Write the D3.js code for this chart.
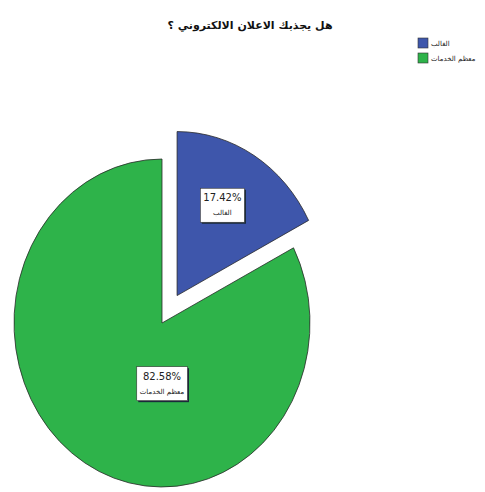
<!DOCTYPE html>
<html>
<head>
<meta charset="utf-8">
<script src="https://cdn.jsdelivr.net/npm/d3@7/dist/d3.min.js"></script>
<style>
  html, body { margin: 0; padding: 0; background: #fff; }
  svg { display: block; }
</style>
</head>
<body>
<svg id="chart" width="485" height="492"></svg>
<script>
// Survey answers and their shares (%)
const categories = ["الغالب", "معظم الخدمات"];
const values = [17.42, 82.58];
const colors = ["#3e56ab", "#2eb34a"];
const titleText = "هل يجذبك الاعلان الالكتروني ؟";

const svg = d3.select("#chart");
const W = 485, H = 492;
const font = "'DejaVu Sans', 'Liberation Sans', sans-serif";

// Title
svg.append("text")
  .attr("x", 250).attr("y", 29)
  .attr("text-anchor", "middle")
  .attr("direction", "rtl")
  .style("font-family", font)
  .style("font-weight", "bold")
  .style("font-size", "11px")
  .attr("fill", "#111")
  .text(titleText);

// Legend
const legend = svg.append("g").attr("transform", "translate(418,38)");
categories.forEach((c, i) => {
  const g = legend.append("g").attr("transform", `translate(0,${i * 15})`);
  g.append("rect").attr("width", 10).attr("height", 10)
    .attr("fill", colors[i]).attr("stroke", "#333").attr("stroke-width", 0.6);
  g.append("text").attr("x", 13).attr("y", 8)
    .style("font-family", font).style("font-size", "7px")
    .attr("fill", "#222")
    .text(c);
});

// Pie, drawn slightly taller than wide
const r = 148;
const cx = 162, cy = 323;
const yStretch = 1.108;
const explode = 29;

const pie = d3.pie().sort(null).value(d => d)
  .startAngle(0).endAngle(2 * Math.PI);
const arcs = pie(values);
const arc = d3.arc().innerRadius(0).outerRadius(r);

const chart = svg.append("g")
  .attr("transform", `translate(${cx},${cy}) scale(1,${yStretch})`);

const mid = d => (d.startAngle + d.endAngle) / 2;
const isSmall = d => (d.endAngle - d.startAngle) < Math.PI;
const offset = d => {
  if (!isSmall(d)) return [0, 0];
  const a = mid(d);
  return [Math.sin(a) * explode, -Math.cos(a) * explode];
};

chart.selectAll("path.slice")
  .data(arcs)
  .join("path")
  .attr("class", "slice")
  .attr("transform", d => `translate(${offset(d)})`)
  .attr("d", arc)
  .attr("fill", (d, i) => colors[i])
  .attr("stroke", "#2a2a2a")
  .attr("stroke-width", 0.8)
  .attr("vector-effect", "non-scaling-stroke");

// Value labels in boxes
const labelPos = d => {
  const o = offset(d);
  const a = isSmall(d) ? mid(d) - 0.04 : Math.PI;
  const lr = isSmall(d) ? 0.63 * r : 0.37 * r;
  const x = cx + o[0] + Math.sin(a) * lr;
  const y = cy + (o[1] - Math.cos(a) * lr) * yStretch;
  return [x, y];
};

arcs.forEach((d, i) => {
  const [x, y] = labelPos(d);
  const g = svg.append("g").attr("transform", `translate(${x},${y})`);
  const pct = g.append("text").attr("y", -4)
    .attr("text-anchor", "middle")
    .style("font-family", font).style("font-size", "10px")
    .attr("fill", "#222")
    .text(d3.format(".2f")(values[i]) + "%");
  const cat = g.append("text").attr("y", 10)
    .attr("text-anchor", "middle")
    .style("font-family", font).style("font-size", "7px")
    .attr("fill", "#222")
    .text(categories[i]);
  const b1 = pct.node().getBBox(), b2 = cat.node().getBBox();
  const x0 = Math.min(b1.x, b2.x) - 3, x1 = Math.max(b1.x + b1.width, b2.x + b2.width) + 3;
  const y0 = -17, y1 = 17;
  g.insert("rect", "text")
    .attr("x", x0 + 1.5).attr("y", y0 + 1.5)
    .attr("width", x1 - x0).attr("height", y1 - y0)
    .attr("fill", "#1a2a3a");
  g.insert("rect", "text")
    .attr("x", x0).attr("y", y0)
    .attr("width", x1 - x0).attr("height", y1 - y0)
    .attr("fill", "#fff").attr("stroke", "#333").attr("stroke-width", 0.6);
});
</script>
</body>
</html>
